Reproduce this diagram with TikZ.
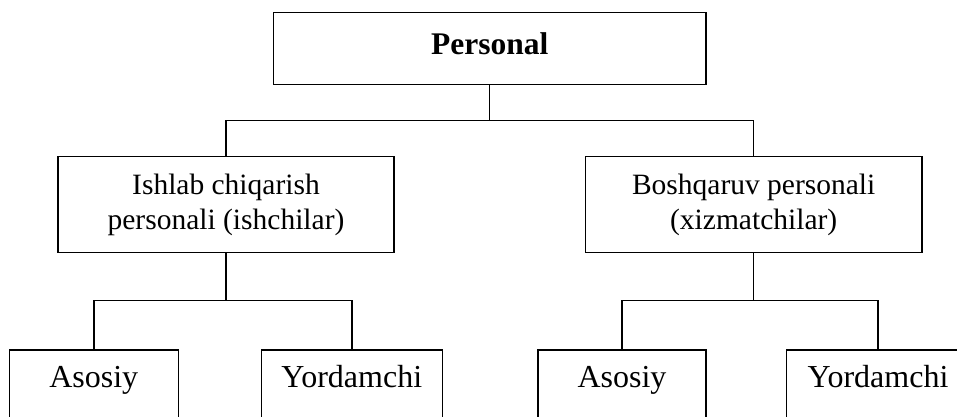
\documentclass[tikz,border=0pt]{standalone}
\usepackage{fontspec}
\setmainfont{Liberation Serif}
\begin{document}
\begin{tikzpicture}[x=1pt,y=-1pt,
  box/.style={draw=black,line width=1.5pt,rectangle,inner sep=0pt,align=center,
    font=\fontsize{29.5}{35}\selectfont},
  link/.style={draw=black,line width=1.5pt}]
\useasboundingbox (0,0) rectangle (957,417);
\clip (0,0) rectangle (957,417);
% top
\node[box,minimum width=432.7pt,minimum height=72.4pt,
  font=\fontsize{31.5}{36}\selectfont\bfseries,text depth=10pt] (top) at (489.7,48.5) {Personal};
% middle
\node[box,minimum width=336.3pt,minimum height=95.6pt] (L) at (226,204.5)
  {Ishlab chiqarish\\personali (ishchilar)};
\node[box,minimum width=336.7pt,minimum height=95.6pt] (R) at (753.7,204.5)
  {Boshqaruv personali\\(xizmatchilar)};
% bottom
\tikzset{bot/.style={box,anchor=north,minimum height=95pt,inner ysep=15pt,
  font=\fontsize{32}{38}\selectfont,text height=21.2pt,text depth=40pt}}
\node[bot,minimum width=169pt] (LA) at (93.8,349) {Asosiy};
\node[bot,minimum width=181pt] (LY) at (351.8,349) {Yordamchi};
\node[bot,minimum width=168pt] (RA) at (622,349) {Asosiy};
\node[bot,minimum width=183pt] (RY) at (878,349) {Yordamchi};
% junctions
\coordinate (j0) at (489.7,120.7);
\coordinate (j1) at (226,300.7);
\coordinate (j2) at (753.7,300.7);
\draw[link] (top.south) -- (j0);
\draw[link] (L.north) |- (j0) -| (R.north);
\draw[link] (L.south) -- (j1);
\draw[link] (LA.north) |- (j1) -| (LY.north);
\draw[link] (R.south) -- (j2);
\draw[link] (RA.north) |- (j2) -| (RY.north);
\end{tikzpicture}
\end{document}
